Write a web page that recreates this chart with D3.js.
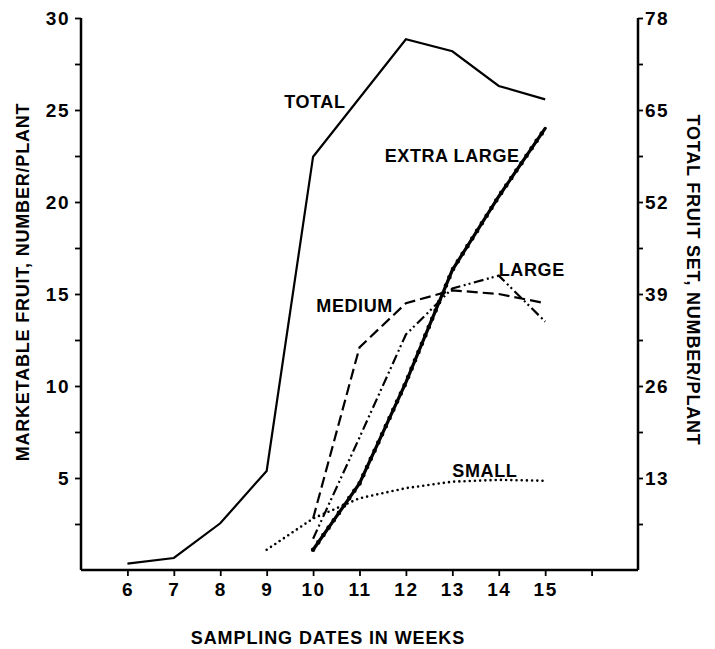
<!DOCTYPE html>
<html>
<head>
<meta charset="utf-8">
<script src="https://cdn.jsdelivr.net/npm/d3@7"></script>
<style>
  body { margin: 0; background: #fff; }
  svg text { font-family: "Liberation Sans", Arial, sans-serif; font-weight: bold; fill: #000; }
</style>
</head>
<body>
<div id="chart"></div>
<script>
// marketable fruit by size class (left axis, number/plant)
const weeks = [6, 7, 8, 9, 10, 11, 12, 13, 14, 15];
const sizeWeeks = [10, 11, 12, 13, 14, 15];
const extraLarge = [1.1, 4.7, 10.2, 16.3, 20.3, 24.0];
const large = [1.7, 7.2, 12.8, 15.3, 16.0, 13.5];
const medium = [2.8, 12.1, 14.5, 15.2, 15.0, 14.5];
const smallWeeks = [9, 10, 11, 12, 13, 14, 15];
const small = [1.1, 2.8, 3.9, 4.45, 4.8, 4.9, 4.85];
// total fruit set (right axis, number/plant)
const totalWeeks = [6, 7, 8, 9, 10, 12, 13, 14, 15];
const total = [0.9, 1.7, 6.6, 14.0, 58.4, 75.0, 73.3, 68.4, 66.5];

const leftTicks = [5, 10, 15, 20, 25, 30];
const rightTicks = [13, 26, 39, 52, 65, 78];

const width = 715, height = 649;
const x = d3.scaleLinear().domain([5, 17]).range([81, 638]);
const yL = d3.scaleLinear().domain([0, 30]).range([570, 18]);
const yR = d3.scaleLinear().domain([0, 78]).range([570, 18]);

const svg = d3.select('#chart').append('svg')
  .attr('width', width)
  .attr('height', height);

// axes
const axL = svg.append('g').attr('transform', 'translate(81,0)')
  .call(d3.axisLeft(yL).tickValues(d3.range(2.5, 30.1, 2.5)).tickSize(6)
    .tickFormat(d => leftTicks.includes(d) ? d : ''));
const axR = svg.append('g').attr('transform', 'translate(638,0)')
  .call(d3.axisRight(yR).tickValues(d3.range(6.5, 78.1, 6.5)).tickSize(5)
    .tickFormat(d => rightTicks.includes(d) ? d : ''));
const axB = svg.append('g').attr('transform', 'translate(0,570)')
  .call(d3.axisBottom(x).tickValues(d3.range(6, 17)).tickSize(6)
    .tickFormat(d => d <= 15 ? d : ''));

[axL, axR, axB].forEach(g => {
  g.select('.domain').attr('stroke', '#000').attr('stroke-width', 2.5);
  g.selectAll('.tick line').attr('stroke', '#000').attr('stroke-width', 1.8);
  g.selectAll('.tick text').style('font-size', '19px').style('letter-spacing', '1.5px');
});
axL.select('.domain').attr('d', 'M0,18V570');
axR.select('.domain').attr('d', 'M0,18V570');
axB.select('.domain').attr('d', 'M81,0H638');
axL.selectAll('.tick text').attr('x', -11).attr('dy', '0.35em');
axR.selectAll('.tick text').attr('x', 7).attr('dy', '0.35em');
axB.selectAll('.tick text').attr('y', 13);

// axis titles
svg.append('text')
  .attr('transform', 'translate(29,282) rotate(-90)')
  .attr('text-anchor', 'middle')
  .style('font-size', '18px').style('letter-spacing', '0.8px')
  .text('MARKETABLE FRUIT, NUMBER/PLANT');
svg.append('text')
  .attr('transform', 'translate(687,280) rotate(90)')
  .attr('text-anchor', 'middle')
  .style('font-size', '18px').style('letter-spacing', '0.8px')
  .text('TOTAL FRUIT SET, NUMBER/PLANT');
svg.append('text')
  .attr('x', 328).attr('y', 644)
  .attr('text-anchor', 'middle')
  .style('font-size', '18px').style('letter-spacing', '0.9px')
  .text('SAMPLING DATES IN WEEKS');

const lineL = d3.line().x(d => x(d[0])).y(d => yL(d[1]));
const lineR = d3.line().x(d => x(d[0])).y(d => yR(d[1]));
const pairs = (xs, ys) => xs.map((w, i) => [w, ys[i]]);

const plot = svg.append('g').attr('fill', 'none').attr('stroke', '#000');

plot.append('path').datum(pairs(totalWeeks, total))
  .attr('d', lineR).attr('stroke-width', 2.2);

plot.append('path').datum(pairs(sizeWeeks, medium))
  .attr('d', lineL).attr('stroke-width', 2.2).attr('stroke-dasharray', '11,5');

plot.append('path').datum(pairs(sizeWeeks, large))
  .attr('d', lineL).attr('stroke-width', 2.2).attr('stroke-dasharray', '10,3.5,2,3,2,3.5');

plot.append('path').datum(pairs(smallWeeks, small))
  .attr('d', lineL).attr('stroke-width', 2.6)
  .attr('stroke-linecap', 'round').attr('stroke-dasharray', '0,5.2');

plot.append('path').datum(pairs(sizeWeeks, extraLarge))
  .attr('d', lineL).attr('stroke-width', 3.2).attr('stroke-linecap', 'round');
plot.append('path').datum(pairs(sizeWeeks, extraLarge))
  .attr('d', lineL).attr('stroke-width', 4.6)
  .attr('stroke-linecap', 'round').attr('stroke-dasharray', '0,9');

// series labels
const labels = [
  { text: 'TOTAL', wk: 10.7, v: 25.1, anchor: 'end' },
  { text: 'EXTRA LARGE', wk: 14.45, v: 22.2, anchor: 'end' },
  { text: 'LARGE', wk: 14.0, v: 16.0, anchor: 'start' },
  { text: 'MEDIUM', wk: 11.72, v: 14.0, anchor: 'end' },
  { text: 'SMALL', wk: 13.0, v: 5.05, anchor: 'start' },
];
svg.append('g').selectAll('text')
  .data(labels)
  .join('text')
  .attr('x', d => x(d.wk))
  .attr('y', d => yL(d.v))
  .attr('text-anchor', d => d.anchor)
  .style('font-size', '18px')
  .style('letter-spacing', '0.6px')
  .text(d => d.text);
</script>
</body>
</html>
